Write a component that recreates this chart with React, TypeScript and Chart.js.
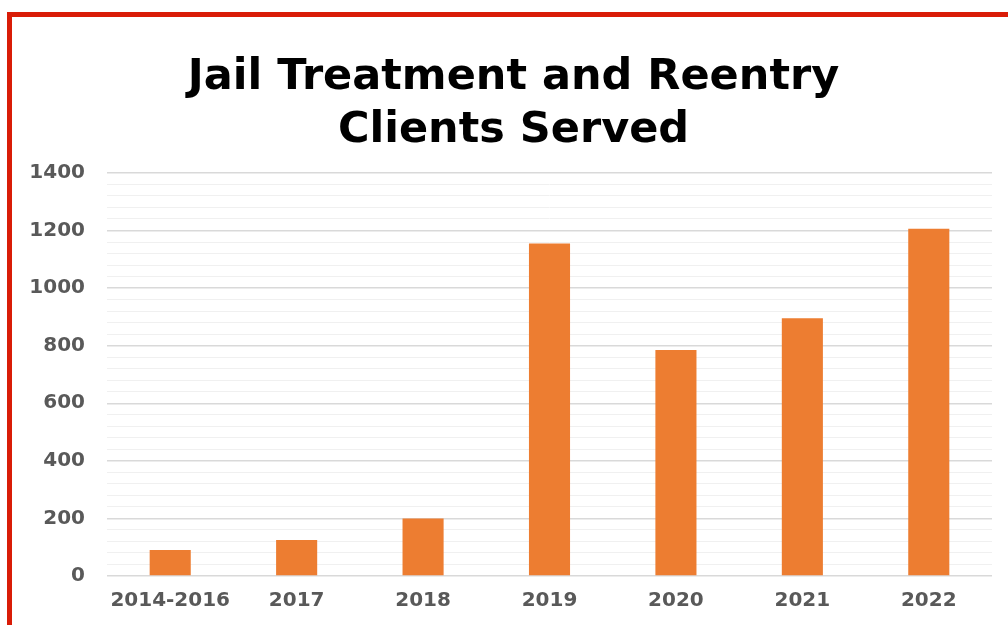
import React, { useEffect, useRef } from "react";
import { Chart, registerables } from "chart.js";

Chart.register(...registerables);

const categories = ["2014-2016", "2017", "2018", "2019", "2020", "2021", "2022"];
const clientsServed = [90, 125, 200, 1155, 785, 895, 1206];
const titleLines = ["Jail Treatment and Reentry", "Clients Served"];
const yMax = 1400;
const majorStep = 200;
const minorStep = 40;

const widenYLabelArea = {
  id: "widenYLabelArea",
  afterLayout(chart: any) {
    if (chart.scales.y) chart.scales.y.left = 0;
  },
};

export default function App() {
  const canvasRef = useRef<HTMLCanvasElement | null>(null);

  useEffect(() => {
    if (!canvasRef.current) return;
    const chart = new Chart(canvasRef.current, {
      type: "bar",
      data: {
        labels: categories,
        datasets: [
          {
            label: "Clients Served",
            data: clientsServed,
            backgroundColor: "#ED7D31",
            borderWidth: 0,
            barPercentage: 0.325,
            categoryPercentage: 1,
          },
        ],
      },
      plugins: [widenYLabelArea],
      options: {
        animation: false,
        responsive: true,
        maintainAspectRatio: false,
        layout: { padding: { left: 35, right: 16, top: 0, bottom: 0 } },
        plugins: {
          legend: { display: false },
          tooltip: { enabled: false },
          title: {
            display: true,
            text: titleLines,
            color: "#000000",
            font: { family: "DejaVu Sans", size: 43, weight: "bold", lineHeight: 1.22 },
            padding: { top: 52, bottom: 16 },
          },
        },
        scales: {
          x: {
            grid: { display: false, drawTicks: false },
            border: { display: false },
            afterFit: (scale: any) => {
              scale.height = 49;
            },
            ticks: {
              color: "#595959",
              font: { family: "DejaVu Sans", size: 20, weight: "bold" },
              padding: 13,
              maxRotation: 0,
              autoSkip: false,
            },
          },
          y: {
            min: 0,
            max: yMax,
            border: { display: false },
            afterFit: (scale: any) => {
              scale.width = 72;
            },
            grid: {
              drawTicks: false,
              color: (ctx: any) =>
                ctx.tick && ctx.tick.value % majorStep === 0 ? "#d9d9d9" : "#f0f0f0",
              lineWidth: (ctx: any) =>
                ctx.tick && ctx.tick.value % majorStep === 0 ? 1.5 : 1,
            },
            ticks: {
              stepSize: minorStep,
              autoSkip: false,
              color: "#595959",
              font: { family: "DejaVu Sans", size: 20, weight: "bold" },
              padding: 22,
              callback: (v: any) => (Number(v) % majorStep === 0 ? String(v) : ""),
            },
          },
        },
      },
    });
    return () => chart.destroy();
  }, []);

  return (
    <div
      style={{
        position: "absolute",
        left: 0,
        top: 0,
        width: 1008,
        height: 625,
        overflow: "hidden",
        background: "#ffffff",
      }}
    >
      <div style={{ position: "absolute", left: 0, top: 0, width: 1008, height: 625 }}>
        <canvas ref={canvasRef} />
      </div>
      <div
        style={{
          position: "absolute",
          left: 7,
          top: 12,
          width: 1200,
          height: 800,
          borderTop: "5px solid #d91c07",
          borderLeft: "5px solid #d91c07",
          pointerEvents: "none",
        }}
      />
    </div>
  );
}
